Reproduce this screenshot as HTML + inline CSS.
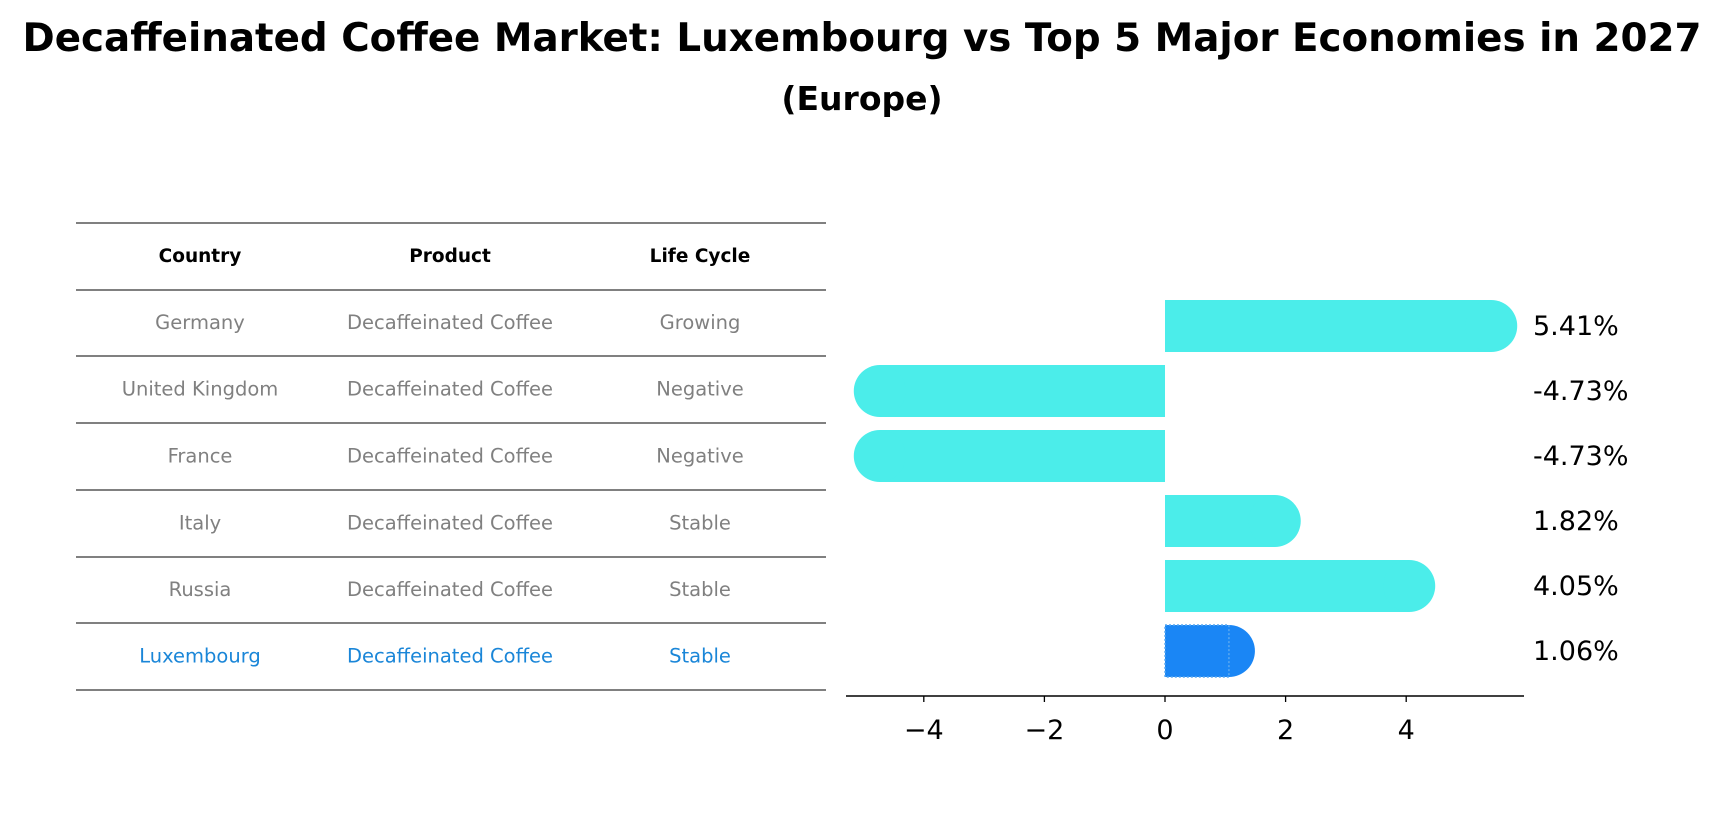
<!DOCTYPE html>
<html><head><meta charset="utf-8"><style>
body{margin:0;background:#fff;font-family:"DejaVu Sans","Liberation Sans",sans-serif}
</style></head><body>
<svg width="1725" height="823" xmlns="http://www.w3.org/2000/svg" font-family="DejaVu Sans, Liberation Sans, sans-serif">
<text x="862" y="51" text-anchor="middle" font-size="38.8" font-weight="bold">Decaffeinated Coffee Market: Luxembourg vs Top 5 Major Economies in 2027</text>
<text x="862" y="110" text-anchor="middle" font-size="33" font-weight="bold">(Europe)</text>
<g id="table"></g>
<g id="bars"></g>
</svg>
<script>
const countries=["Germany","United Kingdom","France","Italy","Russia","Luxembourg"];
const lifeCycle=["Growing","Negative","Negative","Stable","Stable","Stable"];
const values=[5.41,-4.73,-4.73,1.82,4.05,1.06];
const ticks=[-4,-2,0,2,4];
const NS="http://www.w3.org/2000/svg";
function mk(p,t,a,txt){const e=document.createElementNS(NS,t);for(const k in a)e.setAttribute(k,a[k]);if(txt!==undefined)e.textContent=txt;p.appendChild(e);return e;}
const tb=document.getElementById('table');
const lineY=[223,290,356,423,490,557,623,690];
lineY.forEach(y=>{const l=mk(tb,'line',{x1:76,x2:826,y1:y,y2:y,stroke:'#000','stroke-width':1});

});
const cx=[200,450,700];
["Country","Product","Life Cycle"].forEach((h,i)=>{const t=mk(tb,'text',{x:cx[i],y:262,'text-anchor':'middle','font-size':18.5,'font-weight':'bold'},h);

});
countries.forEach((c,r)=>{const y=(lineY[r+1]+lineY[r+2])/2+6;const col=r===5?'#1a86d8':'#808080';
[c,"Decaffeinated Coffee",lifeCycle[r]].forEach((v,i)=>{const t=mk(tb,'text',{x:cx[i],y:y,'text-anchor':'middle','font-size':19.5,fill:col},v);

});});
const bg=document.getElementById('bars');
const x0=1165,ppu=60.3;const X=v=>x0+v*ppu;
const Y=i=>326+i*65;const h=52,r=26;
values.forEach((v,i)=>{const y=Y(i);const last=i===values.length-1;const col=last?'#1a86f5':'#4bedea';
const xa=Math.min(X(0),X(v)),xb=Math.max(X(0),X(v));
const g=mk(bg,'g',{});


mk(g,'rect',{x:xa,y:y-h/2,width:xb-xa,height:h,fill:col});
mk(g,'circle',{cx:X(v),cy:y,r:r,fill:col});
if(last)mk(g,'rect',{x:xa,y:y-h/2,width:xb-xa,height:h,fill:'none',stroke:'#5aa8f0','stroke-width':1.5,'stroke-dasharray':'2 2'});
const t=mk(bg,'text',{x:1533,y:y+9,'font-size':27},v.toFixed(2)+'%');

});
const ax=mk(bg,'line',{x1:846,x2:1524,y1:696,y2:696,stroke:'#000','stroke-width':1.5});


ticks.forEach(v=>{mk(bg,'line',{x1:X(v),x2:X(v),y1:696,y2:702,stroke:'#000','stroke-width':1.3});
const t=mk(bg,'text',{x:X(v),y:739,'text-anchor':'middle','font-size':27},v<0?'\u2212'+(-v):String(v));

});
</script>
</body></html>
